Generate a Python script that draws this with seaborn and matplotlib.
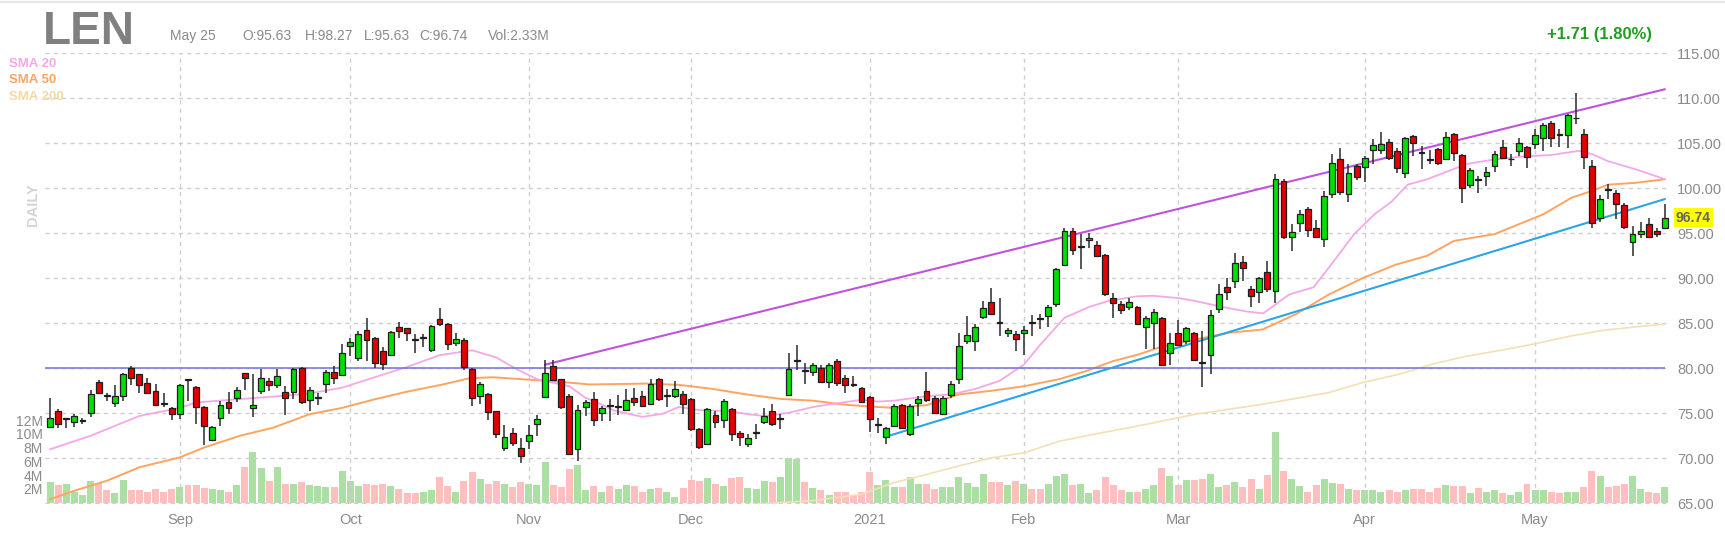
import numpy as np
import pandas as pd
import seaborn as sns
import matplotlib.pyplot as plt
from matplotlib.lines import Line2D

# --- data (Aug 10 2020 .. May 25 2021, 200 bars) ---
opens = [73.48, 75.26, 74.35, 74.07, 74.10, 75.07, 78.48, 77.00, 76.19, 76.93,
         80.07, 79.33, 78.41, 77.48, 76.10, 75.56, 74.96, 78.70, 77.96, 75.70,
         72.04, 74.52, 76.30, 76.74, 79.44, 75.56, 77.48, 78.59, 78.11, 77.37,
         77.37, 80.07, 76.44, 76.75, 78.22, 79.59, 79.26, 82.48, 81.11, 84.26,
         83.41, 81.93, 81.44, 84.59, 84.44, 83.15, 83.40, 82.00, 85.52, 84.96,
         82.78, 83.11, 79.89, 76.93, 77.11, 75.26, 71.19, 72.85, 71.19, 71.93,
         73.85, 76.81, 80.26, 78.78, 76.93, 71.00, 75.74, 76.63, 75.00, 75.85,
         75.70, 75.37, 76.74, 76.93, 76.00, 78.78, 76.90, 76.93, 77.19, 76.63,
         73.30, 71.63, 74.78, 74.26, 75.44, 72.85, 71.63, 72.80, 74.07, 75.26,
         74.35, 77.04, 80.80, 79.75, 79.63, 80.07, 78.52, 80.81, 78.96, 78.20,
         77.78, 76.85, 73.75, 72.37, 73.59, 75.93, 72.67, 76.19, 77.48, 76.67,
         74.89, 77.04, 78.78, 83.04, 83.04, 85.74, 87.41, 85.10, 83.96, 83.85,
         83.96, 85.10, 85.60, 85.81, 87.19, 91.48, 95.26, 93.50, 94.22, 93.70,
         92.56, 87.85, 87.19, 86.81, 86.85, 84.59, 85.07, 85.56, 81.74, 83.96,
         83.04, 83.96, 80.65, 81.44, 86.56, 89.07, 89.70, 91.81, 88.78, 88.52,
         90.74, 88.59, 100.81, 94.63, 96.11, 97.74, 95.56, 94.33, 99.41, 103.22,
         99.33, 102.48, 102.37, 104.22, 104.22, 105.19, 104.15, 101.74, 105.81, 104.00,
         103.15, 104.33, 103.22, 106.00, 103.67, 100.37, 100.95, 101.37, 102.48, 104.59,
         103.20, 104.15, 104.59, 104.89, 105.63, 107.30, 105.95, 105.93, 107.75, 106.07,
         102.48, 96.74, 99.90, 99.52, 98.15, 94.07, 94.96, 96.00, 95.26, 95.63]
highs = [76.74, 75.44, 74.45, 74.96, 74.50, 77.56, 78.67, 77.30, 78.15, 79.52,
         80.22, 79.41, 78.89, 78.22, 77.30, 75.74, 78.22, 78.78, 78.04, 75.80,
         73.60, 76.37, 77.37, 77.93, 79.52, 79.33, 79.89, 78.96, 79.89, 78.04,
         80.00, 80.15, 77.93, 77.30, 79.78, 80.26, 82.67, 83.41, 84.15, 85.56,
         83.48, 82.37, 84.15, 85.15, 84.52, 83.78, 83.78, 84.81, 86.74, 85.07,
         83.96, 83.33, 80.00, 78.52, 77.30, 75.26, 73.70, 73.41, 72.22, 73.70,
         74.81, 80.89, 80.89, 78.78, 77.11, 75.89, 76.44, 77.37, 75.81, 76.56,
         77.00, 77.67, 77.78, 77.48, 78.78, 78.89, 77.67, 78.59, 77.48, 76.74,
         73.41, 75.56, 75.26, 76.56, 75.63, 73.04, 72.67, 73.78, 75.63, 76.07,
         74.89, 81.74, 82.59, 80.63, 80.63, 80.37, 80.63, 81.00, 79.26, 79.15,
         77.93, 76.93, 74.52, 73.48, 76.07, 76.07, 76.00, 76.93, 79.63, 76.93,
         76.93, 78.59, 83.96, 85.81, 84.89, 87.48, 88.96, 87.85, 84.52, 84.15,
         84.70, 85.93, 86.00, 87.04, 91.19, 95.56, 95.56, 94.96, 95.07, 94.15,
         92.67, 88.41, 87.48, 87.85, 86.93, 85.81, 86.56, 85.70, 83.96, 85.33,
         84.59, 84.07, 84.15, 86.44, 89.41, 90.07, 92.85, 92.48, 89.15, 90.15,
         91.93, 101.56, 101.00, 96.07, 97.56, 97.93, 96.44, 99.70, 103.78, 104.52,
         102.74, 102.67, 103.59, 105.44, 106.26, 105.44, 104.52, 105.70, 105.93, 104.70,
         104.22, 104.44, 106.30, 106.19, 103.78, 102.22, 101.37, 102.37, 104.15, 105.33,
         103.78, 105.63, 104.70, 106.56, 107.30, 107.48, 106.56, 108.30, 110.56, 106.56,
         103.11, 99.26, 100.44, 99.78, 98.41, 95.81, 96.30, 96.74, 95.63, 98.27]
lows = [73.40, 73.33, 73.41, 73.52, 73.80, 74.60, 77.11, 76.40, 75.70, 76.37,
        78.15, 77.30, 77.20, 75.78, 75.70, 74.22, 74.37, 76.37, 73.85, 71.44,
        71.89, 73.59, 74.96, 76.30, 77.56, 74.63, 77.19, 77.48, 77.85, 74.78,
        76.56, 76.07, 75.26, 75.93, 77.30, 78.30, 79.15, 81.37, 80.81, 80.81,
        80.07, 79.78, 81.37, 83.33, 83.04, 81.74, 82.37, 81.85, 84.70, 82.00,
        82.48, 79.78, 75.81, 76.07, 74.22, 72.22, 70.81, 71.37, 69.52, 71.00,
        72.48, 76.80, 78.67, 75.44, 70.37, 69.70, 74.70, 73.59, 74.15, 74.15,
        74.80, 75.26, 75.81, 75.80, 76.00, 76.37, 75.70, 76.74, 74.89, 73.04,
        71.00, 71.56, 73.41, 73.33, 71.93, 71.37, 71.30, 72.10, 73.78, 73.59,
        73.22, 77.00, 79.78, 78.22, 79.15, 78.41, 77.85, 78.04, 77.30, 77.93,
        76.19, 72.93, 72.85, 71.56, 73.48, 73.22, 72.48, 74.70, 76.30, 74.89,
        74.78, 76.74, 78.30, 82.67, 81.93, 85.44, 86.00, 83.59, 83.48, 81.93,
        81.48, 83.59, 84.33, 84.59, 86.81, 91.37, 92.59, 91.00, 93.41, 92.37,
        88.04, 85.63, 86.00, 86.44, 84.81, 82.11, 82.11, 80.26, 80.37, 82.48,
        82.67, 80.81, 77.93, 79.41, 86.19, 87.56, 88.96, 89.70, 86.81, 87.30,
        88.52, 87.30, 94.33, 93.04, 95.19, 94.59, 94.52, 93.48, 98.96, 99.26,
        98.52, 100.89, 100.74, 102.67, 103.78, 103.11, 101.74, 101.11, 103.59, 102.11,
        102.67, 102.59, 103.11, 103.04, 98.41, 100.00, 99.44, 100.26, 101.85, 103.22,
        102.48, 103.59, 102.30, 104.33, 104.15, 104.59, 104.59, 104.52, 107.11, 102.11,
        95.63, 96.30, 98.78, 96.56, 95.44, 92.48, 94.52, 94.44, 94.59, 95.63]
closes = [74.52, 73.78, 74.40, 74.67, 74.15, 77.11, 77.22, 76.90, 76.93, 79.33,
          78.89, 78.15, 77.22, 75.89, 76.00, 74.96, 78.15, 78.67, 75.70, 73.59,
          73.48, 75.89, 75.56, 77.56, 78.96, 75.89, 78.89, 78.11, 79.15, 76.74,
          79.96, 76.26, 77.56, 76.80, 79.59, 78.96, 81.74, 82.93, 83.85, 83.11,
          80.63, 80.52, 84.04, 84.15, 83.96, 83.10, 83.45, 84.70, 84.89, 82.67,
          83.26, 80.15, 76.67, 78.30, 75.19, 72.67, 72.41, 71.74, 70.26, 72.56,
          74.41, 79.52, 78.67, 75.70, 70.44, 75.37, 76.30, 74.22, 75.56, 75.80,
          75.75, 76.48, 76.30, 75.81, 78.22, 76.56, 77.00, 77.67, 76.00, 73.30,
          71.30, 75.44, 74.07, 76.37, 72.67, 72.41, 72.22, 72.90, 74.70, 73.78,
          74.40, 79.89, 80.85, 79.70, 80.33, 78.52, 80.37, 78.41, 78.15, 78.15,
          76.30, 74.33, 73.80, 73.33, 75.81, 73.41, 75.81, 76.63, 76.48, 75.04,
          76.67, 78.22, 82.48, 83.67, 84.59, 86.74, 86.07, 85.05, 84.26, 83.22,
          84.26, 85.05, 85.50, 86.81, 91.00, 95.26, 93.11, 93.55, 94.52, 92.48,
          88.22, 87.26, 86.52, 87.41, 84.89, 85.63, 86.30, 80.37, 82.85, 82.59,
          84.44, 80.93, 80.60, 85.93, 88.22, 88.52, 91.67, 91.11, 88.04, 90.00,
          88.78, 101.00, 94.63, 95.15, 97.11, 95.33, 94.63, 99.15, 102.78, 99.63,
          101.74, 101.26, 103.41, 104.78, 104.89, 103.33, 102.30, 105.56, 105.00, 103.95,
          103.10, 102.85, 105.70, 103.96, 100.07, 102.00, 100.90, 101.85, 103.85, 103.41,
          103.25, 105.07, 103.48, 105.93, 107.00, 105.63, 105.90, 108.11, 107.80, 103.52,
          96.19, 98.78, 99.85, 98.22, 95.70, 94.89, 95.26, 94.63, 94.96, 96.74]
volumes = [3.0, 2.6, 2.7, 1.6, 1.1, 3.2, 2.9, 1.75, 1.35, 3.3,
           1.8, 1.8, 1.55, 1.9, 1.55, 1.9, 2.3, 2.6, 2.6, 2.1,
           1.9, 1.75, 1.55, 2.5, 5.1, 7.4, 5.0, 3.2, 5.1, 2.7,
           2.7, 3.0, 2.5, 2.4, 2.2, 2.2, 4.6, 3.2, 2.4, 2.75,
           2.55, 2.75, 2.4, 2.0, 1.4, 1.4, 1.6, 1.8, 3.7, 2.4,
           1.6, 3.2, 4.5, 3.4, 2.75, 3.2, 2.75, 2.2, 3.0, 2.75,
           2.55, 5.9, 2.55, 2.2, 4.9, 5.4, 1.8, 2.35, 1.57, 2.35,
           1.96, 2.55, 2.35, 1.57, 1.96, 2.16, 1.57, 0.78, 2.16, 3.33,
           3.2, 3.6, 2.75, 2.35, 3.5, 3.7, 2.16, 1.96, 3.2, 2.94,
           3.7, 6.5, 6.3, 2.94, 2.1, 1.86, 1.03, 1.57, 1.57, 1.13,
           1.57, 4.5, 2.6, 3.3, 2.3, 2.3, 3.7, 2.7, 2.7, 1.96,
           2.2, 2.3, 3.7, 2.9, 2.3, 4.1, 2.98, 2.98, 2.6, 3.2,
           2.7, 1.96, 1.96, 2.7, 3.9, 4.1, 2.6, 2.7, 1.37, 1.76,
           3.7, 2.6, 1.76, 1.55, 1.6, 1.97, 2.6, 5.0, 3.83, 2.6,
           3.24, 3.24, 3.44, 4.18, 2.21, 2.6, 2.95, 2.21, 3.44, 1.97,
           3.97, 10.2, 4.56, 3.44, 2.36, 1.52, 2.6, 3.44, 2.8, 2.75,
           1.97, 1.77, 1.77, 1.77, 1.52, 1.77, 1.52, 1.77, 1.97, 1.97,
           1.52, 2.11, 2.6, 2.36, 2.36, 1.38, 2.16, 1.52, 1.77, 1.38,
           1.13, 1.52, 2.75, 1.77, 1.77, 1.52, 1.38, 1.52, 1.52, 2.21,
           4.56, 3.83, 2.21, 2.36, 2.75, 3.83, 1.97, 1.52, 1.38, 2.33]

# moving averages (bar index, price)
sma20_idx = [0, 5, 11, 16, 18, 23, 27.5, 32, 36, 40, 44, 48, 52, 55, 57.5, 60, 62, 64, 66,
             67, 69.5, 73, 75.5, 77.5, 80, 83.5, 86, 88, 91, 94, 96.5, 100, 102, 104, 108,
             111, 114, 117, 120, 122, 125, 128, 130.5, 134, 136, 139, 141, 144.5, 147.5,
             149.5, 152.7, 155.7, 157.6, 160.7, 163.2, 165.3, 167.3, 169.7, 171.7, 174.6,
             178, 181.3, 185, 188.4, 190, 192, 195.4, 199]
sma20_val = [71.0, 72.5, 74.7, 75.6, 76.2, 76.55, 76.85, 77.2, 77.85, 79.0, 80.15, 81.45,
             82.0, 81.2, 79.9, 78.8, 78.4, 78.0, 76.7, 76.4, 75.3, 74.6, 74.95, 75.7, 75.35,
             75.25, 74.9, 74.7, 75.05, 75.7, 76.05, 76.5, 76.3, 76.4, 76.9, 77.1, 77.7, 78.6,
             80.4, 82.6, 85.6, 86.8, 87.5, 88.0, 88.05, 87.8, 87.5, 86.8, 86.3, 86.1, 88.2,
             89.0, 91.2, 94.9, 97.1, 98.5, 100.4, 101.0, 101.7, 102.7, 103.2, 103.5, 103.7,
             104.15, 103.8, 103.0, 102.1, 101.0]
sma50_idx = [0, 3, 7, 11, 16, 19, 23.4, 27.5, 32, 36, 40, 44, 48.4, 51.7, 54.6, 58.7, 62.8,
             66.5, 73.5, 77.6, 81.7, 85.8, 90, 94, 98, 101, 104, 108, 112, 116, 120, 124.4,
             127.7, 131, 134, 137, 141.2, 145.3, 149.4, 153.5, 157.6, 161.7, 165.8, 169.7,
             173, 178, 181, 184, 187.5, 190, 192, 195.4, 199]
sma50_val = [65.45, 66.4, 67.5, 69.0, 70.1, 71.2, 72.5, 73.4, 74.9, 75.6, 76.55, 77.4, 78.2,
             78.9, 79.0, 78.75, 78.5, 78.2, 78.3, 78.15, 77.7, 77.1, 76.6, 76.4, 75.95, 75.75,
             75.6, 75.9, 77.1, 77.5, 78.0, 78.8, 79.7, 80.8, 81.5, 82.4, 83.2, 83.95, 84.3,
             86.0, 88.2, 90.0, 91.5, 92.5, 94.15, 94.9, 96.0, 97.1, 98.95, 99.7, 100.4,
             100.6, 101.0]
sma200_idx = [80, 87, 94, 100, 104, 108, 112, 116, 120, 124.4, 128.5, 133, 141.2, 149.4,
              157.6, 161.7, 166.3, 170.5, 174.6, 178.8, 182.6, 187.5, 191.3, 195.4, 199]
sma200_val = [64.4, 64.9, 65.3, 66.0, 67.3, 68.2, 69.15, 70.05, 70.6, 71.9, 72.65, 73.4,
              74.9, 76.0, 77.3, 78.4, 79.35, 80.5, 81.35, 82.0, 82.65, 83.6, 84.2, 84.6, 84.9]

# drawn trendlines (bar index, price)
upper_idx = [61, 199]
upper_val = [80.4, 111.0]
lower_idx = [103, 199]
lower_val = [72.4, 98.8]
level = 80.0

month_labels = ['Sep', 'Oct', 'Nov', 'Dec', '2021', 'Feb', 'Mar', 'Apr', 'May']
month_pos = [16, 37, 59, 79, 101, 120, 139, 162, 183]
price_ticks = [65, 70, 75, 80, 85, 90, 95, 100, 105, 110, 115]
vol_ticks = [2, 4, 6, 8, 10, 12]

df = pd.DataFrame({'o': opens, 'h': highs, 'l': lows, 'c': closes, 'v': volumes})
df['i'] = np.arange(len(df))
df['up'] = df['c'] >= df['o']

sns.set_theme(style="white")
plt.rcParams['font.family'] = ['Liberation Sans', 'DejaVu Sans']

W, H = 1725, 541
fig = plt.figure(figsize=(W / 100, H / 100), dpi=100)
rect = [45 / W, (H - 503.75) / H, 1625 / W, 451 / H]
ax_v = fig.add_axes(rect)
ax = fig.add_axes(rect, sharex=ax_v)
ax.patch.set_visible(False)

GRID = '#cfcfcf'
TXT = '#8a8a8a'

# thin frame line at the very top
fig.add_artist(Line2D([0, 1], [1 - 1.5 / H, 1 - 1.5 / H], color='#e6e6e6', lw=1.5))

# volume
ax_v.bar(df['i'], df['v'], width=0.86, linewidth=0,
         color=np.where(df['up'], '#abdfa4', '#ffbfbf'))
ax_v.set_ylim(-0.18, 65.5)
ax_v.set_yticks(vol_ticks)
ax_v.set_yticklabels([f'{t}M' for t in vol_ticks])
ax_v.tick_params(axis='y', length=0, pad=1.5, labelsize=10, labelcolor=TXT)
ax_v.tick_params(axis='x', length=0, labelbottom=False)
for s in ax_v.spines.values():
    s.set_visible(False)

# grid
ax.set_axisbelow(True)
ax.grid(True, color=GRID, linestyle=(0, (3, 3)), linewidth=1)

# moving averages and trendlines
sns.lineplot(x=sma200_idx, y=sma200_val, ax=ax, color='#f6dfb4', lw=1.2, zorder=2)
sns.lineplot(x=sma50_idx, y=sma50_val, ax=ax, color='#ffa460', lw=1.4, zorder=2)
sns.lineplot(x=sma20_idx, y=sma20_val, ax=ax, color='#f4a8e8', lw=1.3, zorder=2)
ax.hlines(level, -0.6, 199, color='#7c7cd8', lw=1.2, zorder=2)
sns.lineplot(x=upper_idx, y=upper_val, ax=ax, color='#c052e0', lw=1.5, zorder=2)
sns.lineplot(x=lower_idx, y=lower_val, ax=ax, color='#2aa5e8', lw=1.5, zorder=2)

# candles
ax.vlines(df['i'], df['l'], df['h'], color='#2a2a2a', lw=1.1, zorder=3)
body_lo = np.minimum(df['o'], df['c'])
body_h = np.maximum((df['c'] - df['o']).abs(), 0.1)
ax.bar(df['i'], body_h, bottom=body_lo, width=0.72, zorder=4,
       color=np.where(df['up'], '#00e000', '#e40000'), edgecolor='#1e1e1e', linewidth=0.9)

ax.set_xlim(-0.62, 199.62)
ax.set_ylim(64.95, 115.05)
ax.set_yticks(price_ticks)
ax.set_yticklabels([f'{t:.2f}' for t in price_ticks])
ax.yaxis.tick_right()
ax.tick_params(axis='y', length=0, pad=5, labelsize=10.5, labelcolor=TXT)
ax.set_xticks(month_pos)
ax.set_xticklabels(month_labels)
ax.tick_params(axis='x', length=0, pad=7, labelsize=10.5, labelcolor=TXT)
ax.set_xlabel('')
ax.set_ylabel('')
for s in ax.spines.values():
    s.set_visible(False)

# last price tag
last = closes[-1]
ax.text(1.0035, last, f'{last:.2f}', transform=ax.get_yaxis_transform(), ha='left',
        va='center', fontsize=10, fontweight='bold', color='#666666',
        bbox=dict(boxstyle='square,pad=0.15', fc='#ffff00', ec='none'))

# header texts
def fx(px):
    return px / W

def fy(py):
    return 1 - py / H

fig.text(fx(43), fy(44), 'LEN', fontsize=33, fontweight='bold', color='#808080', va='baseline')
hdr = [(170, 'May 25'), (242, 'O:95.63'), (305, 'H:98.27'), (364, 'L:95.63'),
       (419, 'C:96.74'), (488, 'Vol:2.33M')]
for x, t in hdr:
    fig.text(fx(x), fy(36), t, fontsize=10, color=TXT, va='center')
fig.text(fx(1652), fy(35), '+1.71 (1.80%)', fontsize=12, fontweight='bold',
         color='#1f9e1f', ha='right', va='center')
for y, t, c in [(64, 'SMA 20', '#f4a8e8'), (80, 'SMA 50', '#ffa460'), (97, 'SMA 200', '#f3d9a4')]:
    fig.text(fx(9), fy(y), t, fontsize=9.5, fontweight='bold', color=c, va='center')
fig.text(fx(33), fy(205), 'DAILY', fontsize=10.5, fontweight='bold', color='#d4d4d4',
         rotation=90, ha='center', va='center')

fig.savefig('out.png', dpi=100)
